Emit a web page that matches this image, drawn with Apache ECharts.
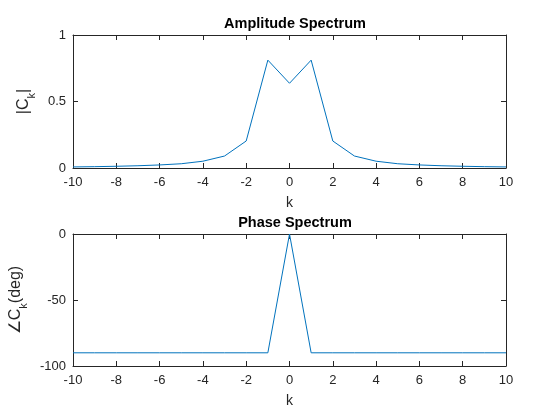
<!DOCTYPE html>
<html><head><meta charset="utf-8">
<script src="https://cdn.jsdelivr.net/npm/echarts@6/dist/echarts.min.js"></script>
<style>html,body{margin:0;padding:0;background:#fff}#c{width:560px;height:420px}</style>
</head><body><div id="c"></div>
<script>
var kValues = [-10,-9,-8,-7,-6,-5,-4,-3,-2,-1,0,1,2,3,4,5,6,7,8,9,10];
var amplitude = [0.008,0.010,0.013,0.017,0.023,0.032,0.051,0.090,0.203,0.811,0.637,0.811,0.203,0.090,0.051,0.032,0.023,0.017,0.013,0.010,0.008];
var phaseDeg = [-90,-90,-90,-90,-90,-90,-90,-90,-90,-90,0,-90,-90,-90,-90,-90,-90,-90,-90,-90,-90];
var xTicks = [-10,-8,-6,-4,-2,0,2,4,6,8,10];
var ampTicks = [0,0.5,1];
var phaseTicks = [-100,-50,0];

var FONT = 'Liberation Sans, Arial, sans-serif';
var AX = '#262626';
function pairs(ys){ return kValues.map(function(k,i){return [k, ys[i]];}); }

function xAx(gi, pos, labels, name){
  return {type:'value', gridIndex:gi, position:pos, min:-10, max:10, interval:2,
    axisLine:{show:true, onZero:false, lineStyle:{color:AX, width:1}},
    axisTick:{show:true, inside:true, length:5, lineStyle:{color:AX}},
    axisLabel:{show:labels, color:AX, fontSize:13, fontFamily:FONT, margin:8},
    splitLine:{show:false},
    name: name||'', nameLocation:'middle', nameGap:28,
    nameTextStyle:{color:AX, fontSize:14, fontFamily:FONT}};
}
function yAx(gi, pos, labels, min, max, interval, name, gap){
  return {type:'value', gridIndex:gi, position:pos, min:min, max:max, interval:interval,
    axisLine:{show:true, onZero:false, lineStyle:{color:AX, width:1}},
    axisTick:{show:true, inside:true, length:5, lineStyle:{color:AX}},
    axisLabel:{show:labels, color:AX, fontSize:13, fontFamily:FONT, margin:7},
    splitLine:{show:false},
    name: name||'', nameLocation:'middle', nameGap:gap||30, nameRotate:90,
    nameTextStyle:{color:AX, fontSize:16, fontFamily:FONT,
      rich:{m:{fontSize:16, fontFamily:FONT, color:AX, lineHeight:26, verticalAlign:'middle'},
            s:{fontSize:11, fontFamily:FONT, color:AX, lineHeight:26, verticalAlign:'bottom'}}}};
}

var chart = echarts.init(document.getElementById('c'), null, {renderer:'canvas'});
chart.setOption({
  backgroundColor:'#fff',
  animation:false,
  title:[
    {text:'Amplitude Spectrum', left:290, top:11, textAlign:'center',
     textStyle:{fontSize:14.5, fontWeight:'bold', color:'#000', fontFamily:FONT}},
    {text:'Phase Spectrum', left:290, top:210, textAlign:'center',
     textStyle:{fontSize:14.5, fontWeight:'bold', color:'#000', fontFamily:FONT}}
  ],
  grid:[
    {left:73, width:433, top:35, height:133},
    {left:73, width:433, top:234, height:132}
  ],
  xAxis:[
    xAx(0,'bottom',true,'k'), xAx(0,'top',false),
    xAx(1,'bottom',true,'k'), xAx(1,'top',false)
  ],
  yAxis:[
    yAx(0,'left',true,0,1,0.5,'{m||C}{s|k}{m||}',34), yAx(0,'right',false,0,1,0.5),
    yAx(1,'left',true,-100,0,50,'{m|∠C}{s|k}{m|(deg)}',34), yAx(1,'right',false,-100,0,50)
  ],
  series:[
    {type:'line', xAxisIndex:0, yAxisIndex:0, data:pairs(amplitude), showSymbol:false,
     lineStyle:{color:'#0072BD', width:1}},
    {type:'line', xAxisIndex:2, yAxisIndex:2, data:pairs(phaseDeg), showSymbol:false,
     lineStyle:{color:'#0072BD', width:1}}
  ]
});
</script></body></html>
